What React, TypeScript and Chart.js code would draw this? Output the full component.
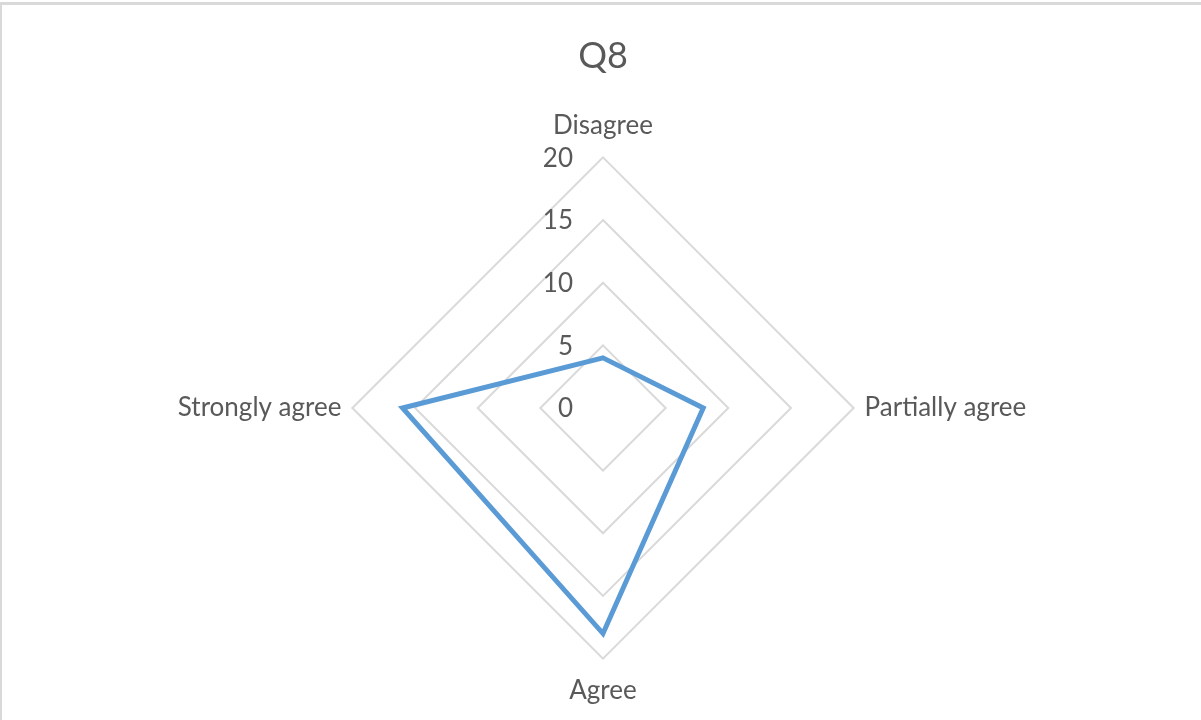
import React, { useEffect, useRef } from "react";
import { Chart, registerables } from "chart.js";

Chart.register(...registerables);

const titleText = "Q8";
const categories = ["Disagree", "Partially agree", "Agree", "Strongly agree"];
const seriesValues = [4, 8, 18, 16];
const tickValues = [0, 5, 10, 15, 20];

const FONT = "Lato, 'Open Sans', sans-serif";
const TEXT = "#595959";

const tickLabelPlugin = {
  id: "tickLabels",
  beforeDatasetsDraw(chart: any) {
    const scale = chart.scales.r;
    const ctx = chart.ctx;
    ctx.save();
    ctx.font = `26px ${FONT}`;
    ctx.fillStyle = TEXT;
    ctx.textAlign = "right";
    ctx.textBaseline = "middle";
    tickValues.forEach((v) => {
      const d = scale.getDistanceFromCenterForValue(v);
      ctx.fillText(String(v), scale.xCenter - 30, scale.yCenter - d + 1);
    });
    ctx.restore();
  },
};

export default function App() {
  const ref = useRef<HTMLCanvasElement>(null);
  useEffect(() => {
    if (!ref.current) return;
    const chart = new Chart(ref.current, {
      type: "radar",
      data: {
        labels: categories,
        datasets: [
          {
            label: "Q8",
            data: seriesValues,
            borderColor: "#5B9BD5",
            backgroundColor: "rgba(0,0,0,0)",
            borderWidth: 5,
            pointRadius: 0,
            pointHoverRadius: 0,
            fill: false,
          },
        ],
      },
      options: {
        animation: false,
        responsive: true,
        maintainAspectRatio: false,
        layout: { padding: { left: 3, right: 0, top: 0, bottom: 13 } },
        plugins: {
          legend: { display: false },
          tooltip: { enabled: false },
          title: {
            display: true,
            text: titleText,
            color: TEXT,
            font: { family: FONT, size: 36, weight: "normal" as any, lineHeight: 1.2 },
            padding: { top: 30, bottom: 32 },
          },
        },
        scales: {
          r: {
            min: 0,
            max: 20,
            beginAtZero: true,
            ticks: { display: false, stepSize: 5 },
            grid: { color: "#d9d9d9", lineWidth: 2 },
            angleLines: { display: false },
            pointLabels: {
              color: TEXT,
              font: { family: FONT, size: 26, lineHeight: 1.2 },
              padding: (ctx: any) => (ctx.index % 2 === 1 ? 11 : 16),
            },
          },
        },
      },
      plugins: [tickLabelPlugin],
    });
    return () => chart.destroy();
  }, []);

  return (
    <div
      style={{
        position: "fixed",
        left: 0,
        top: 2,
        width: 1201,
        height: 718,
        borderTop: "3px solid #d9d9d9",
        borderLeft: "2px solid #d9d9d9",
        boxSizing: "border-box",
        background: "#fff",
      }}
    >
      <div style={{ position: "relative", width: "100%", height: "100%" }}>
        <canvas ref={ref} />
      </div>
    </div>
  );
}
